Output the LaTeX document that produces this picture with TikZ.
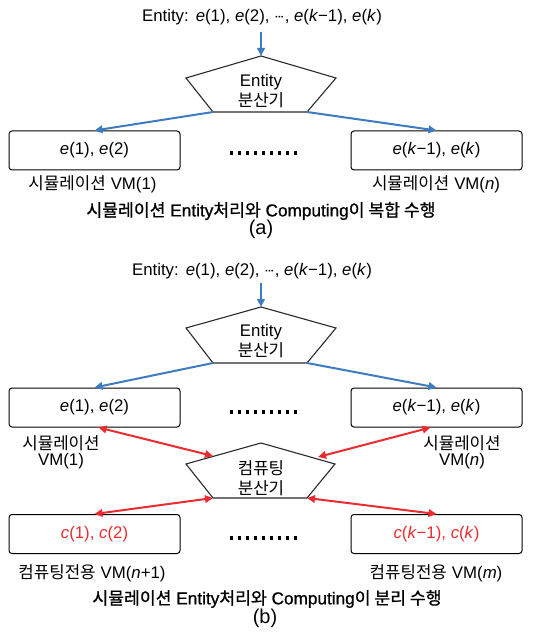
\documentclass[tikz,border=0pt]{standalone}
\usepackage{fontspec}
\setmainfont{Liberation Sans}
\newfontfamily\kr{Noto Sans CJK KR}
\newfontfamily\krb{Noto Sans CJK KR}[FakeBold=0.9]
\newfontfamily\lsb{Liberation Sans}[FakeBold=0.9]
\usetikzlibrary{arrows.meta}
\definecolor{ablue}{HTML}{3F7BC1}
\definecolor{ared}{HTML}{EC2B2E}
\definecolor{pgray}{HTML}{2A2A2A}
\newcommand\K[1]{{\kr #1}}
\newcommand\KB[1]{{\krb #1}}
\newcommand\ei{\textit{e}}
\newcommand\ci{\textit{c}}
\newcommand\kk{\textit{k}}
\newcommand\entlist{Entity:\hspace{7pt}\ei(1), \ei(2), ${\cdot}\mkern-2mu{\cdot}\mkern-2mu{\cdot}$, \ei(\kk−1), \ei(\kk)}
\begin{document}
\begin{tikzpicture}[x=1pt,y=-1pt,
  txt/.style={inner sep=0pt, font=\fontsize{16.8}{19.5}\selectfont, align=center},
  txtb/.style={inner sep=0pt, font=\fontsize{16.8}{16}\selectfont, align=center},
  captxt/.style={inner sep=0pt, font=\lsb\fontsize{17.2}{19.5}\selectfont},
  capt/.style={inner sep=0pt, font=\fontsize{20}{22}\selectfont},
  vmbox/.style={draw=black, line width=1pt, rounded corners=3pt, minimum width=171pt,
    minimum height=39pt, inner sep=0pt, font=\fontsize{16.8}{19}\selectfont},
  penta/.style={draw=pgray, line width=1.1pt, fill=white, line join=miter},
  barrow/.style={ablue, line width=2pt, -{Triangle[length=8pt,width=7.5pt]}},
  rarrow/.style={ared, line width=2pt, {Triangle[length=8pt,width=7.5pt]}-{Triangle[length=8pt,width=7.5pt]}},
  dotline/.style={line width=3.2pt, dash pattern=on 3.2pt off 4.8pt}]
\useasboundingbox (0,0) rectangle (540,636);

% ---------- (a) ----------
\node[txt] (t1) at (262,17) {\entlist};
\coordinate (a1) at (261,32);
\coordinate (p1t) at (261,56);
\coordinate (p1l) at (186,78);
\coordinate (p1r) at (336,78);
\coordinate (p1br) at (307,112);
\coordinate (p1bl) at (213,112);
\draw[penta] (p1t)--(p1r)--(p1br)--(p1bl)--(p1l)--cycle;
\node[txt] (p1txt) at (261,91) {Entity\\\K{분산기}};
\draw[barrow] (a1)--(p1t);

\node[vmbox] (b1) at (94.5,150.5) {\ei(1), \ei(2)};
\node[vmbox] (b2) at (436.5,150.5) {\ei(\kk−1), \ei(\kk)};
\draw[barrow] (p1bl)--(b1.north);
\draw[barrow] (p1br)--(b2.north);
\draw[dotline] (230,153)--(298,153);

\node[txt] (l1) at (92.5,184) {\K{시뮬레이션}\hspace{5pt}VM(1)};
\node[txt] (l2) at (436,184) {\K{시뮬레이션}\hspace{5pt}VM(\textit{n})};
\node[captxt] (c1) at (261,211) {\KB{시뮬레이션} Entity\KB{처리와} Computing\KB{이 복합 수행}};
\node[capt] (ca) at (261,229) {(a)};

% ---------- (b) ----------
\node[txt] (t2) at (252,271) {\entlist};
\coordinate (a2) at (261,283);
\coordinate (p2t) at (261,307);
\coordinate (p2l) at (186,328);
\coordinate (p2r) at (336,328);
\coordinate (p2br) at (307,363);
\coordinate (p2bl) at (213,363);
\draw[penta] (p2t)--(p2r)--(p2br)--(p2bl)--(p2l)--cycle;
\node[txt] (p2txt) at (261,341) {Entity\\\K{분산기}};
\draw[barrow] (a2)--(p2t);

\node[vmbox] (b3) at (94.5,407.5) {\ei(1), \ei(2)};
\node[vmbox] (b4) at (436.5,407.5) {\ei(\kk−1), \ei(\kk)};
\draw[barrow] (p2bl)--(b3.north);
\draw[barrow] (p2br)--(b4.north);
\draw[dotline] (230,412)--(298,412);

\node[txtb] (l3) at (61,452) {\K{시뮬레이션}\\VM(1)};
\node[txtb] (l4) at (462,452) {\K{시뮬레이션}\\VM(\textit{n})};

\coordinate (p3t) at (261,443);
\coordinate (p3l) at (186,464);
\coordinate (p3r) at (335,464);
\coordinate (p3br) at (307,498);
\coordinate (p3bl) at (213,498);
\coordinate (p3lu) at (213,456);
\coordinate (p3ru) at (318,457);
\draw[penta] (p3t)--(p3r)--(p3br)--(p3bl)--(p3l)--cycle;
\node[txt] (p3txt) at (261,478) {\K{컴퓨팅}\\\K{분산기}};
\draw[rarrow] ([xshift=4pt]b3.south)--(p3lu);
\draw[rarrow] ([xshift=-6pt]b4.south)--(p3ru);

\node[vmbox, text=ared] (b5) at (94.5,534) {\ci(1), \ci(2)};
\node[vmbox, text=ared] (b6) at (436.5,534) {\ci(\kk−1), \ci(\kk)};
\draw[rarrow] (p3bl)--(b5.north);
\draw[rarrow] (p3br)--(b6.north);
\draw[dotline] (230,538)--(298,538);

\node[txt] (l5) at (92,573) {\K{컴퓨팅전용}\hspace{5pt}VM(\textit{n}+1)};
\node[txt] (l6) at (436,573) {\K{컴퓨팅전용}\hspace{5pt}VM(\textit{m})};
\node[captxt] (c2) at (267,599) {\KB{시뮬레이션} Entity\KB{처리와} Computing\KB{이 분리 수행}};
\node[capt] (cb) at (265,618) {(b)};
\end{tikzpicture}
\end{document}
